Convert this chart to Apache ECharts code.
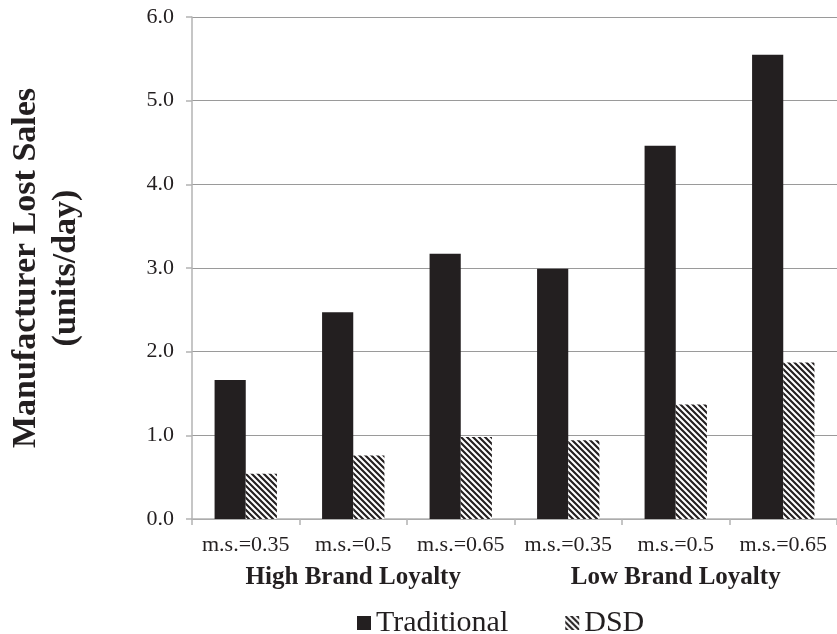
<!DOCTYPE html>
<html><head><meta charset="utf-8">
<script src="https://cdn.jsdelivr.net/npm/echarts@6/dist/echarts.min.js"></script>
<style>html,body{margin:0;padding:0;background:#fff}#c{width:837px;height:634px}</style>
</head><body><div id="c"></div>
<script>
const categories = ['m.s.=0.35','m.s.=0.5','m.s.=0.65','m.s.=0.35','m.s.=0.5','m.s.=0.65'];
const groups = ['High Brand Loyalty','Low Brand Loyalty'];
const traditional = [1.66, 2.47, 3.17, 2.99, 4.46, 5.55];
const dsd = [0.54, 0.76, 0.98, 0.94, 1.37, 1.87];
const yTicks = {min: 0, max: 6, interval: 1};

function hatch() {
  const n = 6, c = document.createElement('canvas');
  c.width = n; c.height = n;
  const g = c.getContext('2d');
  g.fillStyle = '#fff'; g.fillRect(0, 0, n, n);
  g.strokeStyle = '#231f20'; g.lineWidth = 2.1;
  g.beginPath();
  g.moveTo(-1, -1); g.lineTo(n + 1, n + 1);
  g.moveTo(-1, n - 1); g.lineTo(1, n + 1);
  g.moveTo(n - 1, -1); g.lineTo(n + 1, 1);
  g.stroke();
  return c;
}
const font = 'Liberation Serif';
const ink = '#231f20';
const chart = echarts.init(document.getElementById('c'), null, {renderer: 'canvas'});
chart.setOption({
  animation: false,
  backgroundColor: '#fff',
  textStyle: {fontFamily: font, color: ink},
  grid: {left: 192, right: 0, top: 17, bottom: 115, containLabel: false, outerBoundsMode: 'none'},
  legend: {
    top: 603, left: 352, itemGap: 57, itemWidth: 14, itemHeight: 14,
    icon: 'rect',
    textStyle: {fontFamily: font, fontSize: 30, color: ink},
    data: ['Traditional', 'DSD']
  },
  xAxis: [{
    type: 'category', data: categories, position: 'bottom',
    axisLine: {show: true, lineStyle: {color: '#b3b3b3', width: 1.5}},
    axisTick: {show: true, length: 6, lineStyle: {color: '#b3b3b3', width: 1.5}},
    axisLabel: {fontFamily: font, fontSize: 22, color: ink, margin: 15, interval: 0}
  }, {
    type: 'category', data: groups, position: 'bottom', offset: 40,
    axisLine: {show: false}, axisTick: {show: false},
    axisLabel: {fontFamily: font, fontSize: 25, fontWeight: 'bold', color: ink, margin: 6}
  }],
  yAxis: {
    type: 'value', min: yTicks.min, max: yTicks.max, interval: yTicks.interval,
    name: 'Manufacturer Lost Sales\n(units/day)',
    nameLocation: 'middle', nameGap: 106, nameRotate: 90,
    nameTextStyle: {fontFamily: font, fontSize: 34, fontWeight: 'bold', color: ink, lineHeight: 40},
    axisLine: {show: true, lineStyle: {color: '#b3b3b3', width: 1.5}},
    axisTick: {show: true, length: 6, lineStyle: {color: '#b3b3b3', width: 1.5}},
    axisLabel: {fontFamily: font, fontSize: 22, color: ink, margin: 18, formatter: v => v.toFixed(1)},
    splitLine: {show: true, lineStyle: {color: '#9a9a9a', width: 1.2}}
  },
  series: [{
    name: 'Traditional', type: 'bar', data: traditional, xAxisIndex: 0,
    barGap: '0%', barCategoryGap: '42%',
    itemStyle: {color: ink}
  }, {
    name: 'DSD', type: 'bar', data: dsd, xAxisIndex: 0,
    barGap: '0%', barCategoryGap: '42%',
    itemStyle: {color: {image: hatch(), repeat: 'repeat'}}
  }]
});
</script></body></html>
